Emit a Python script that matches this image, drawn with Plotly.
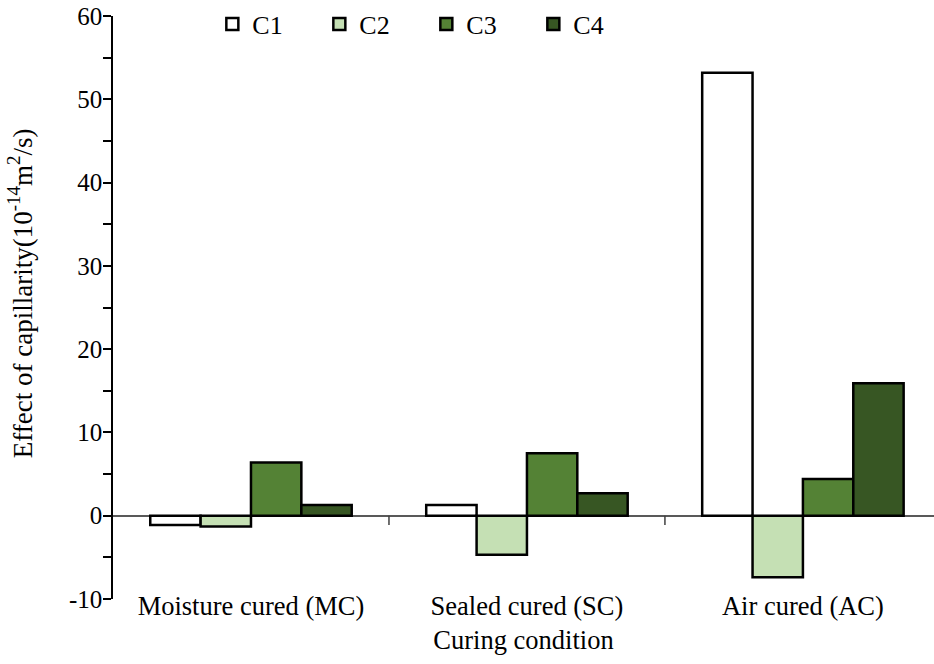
import plotly.graph_objects as go

categories = ["Moisture cured (MC)", "Sealed cured (SC)", "Air cured (AC)"]
series_names = ["C1", "C2", "C3", "C4"]
c1 = [-1.1, 1.3, 53.2]
c2 = [-1.3, -4.7, -7.4]
c3 = [6.4, 7.5, 4.4]
c4 = [1.3, 2.7, 15.9]
series_values = [c1, c2, c3, c4]
colors = ["#ffffff", "#c5e0b4", "#548235", "#375623"]

y_ticks = [-10, 0, 10, 20, 30, 40, 50, 60]
y_tick_labels = ["-10", "0", "10", "20", "30", "40", "50", "60"]
y_title = "Effect of capillarity(10<sup>-14</sup>m<sup>2</sup>/s)"

FONT = "Liberation Serif"

fig = go.Figure()
for name, vals, col in zip(series_names, series_values, colors):
    fig.add_trace(go.Bar(
        x=categories, y=vals, name=name,
        marker=dict(color=col, line=dict(color="#000000", width=2.5)),
    ))

# category boundary tick marks on the zero line
for b in [0.5, 1.5]:
    fig.add_shape(type="line", xref="x", yref="y", x0=b, x1=b, y0=0, y1=-1.1,
                  line=dict(color="#404040", width=1.5))

fig.add_annotation(text=y_title, xref="paper", yref="paper",
                   x=-0.113, y=0.525, xanchor="center", yanchor="middle",
                   textangle=-90, showarrow=False,
                   font=dict(family=FONT, size=27, color="#000000"))

fig.update_layout(
    width=934, height=664,
    margin=dict(l=113, r=0, t=16, b=65, autoexpand=False),
    paper_bgcolor="white", plot_bgcolor="white",
    barmode="group", bargap=0.27, bargroupgap=0,
    font=dict(family=FONT, size=25, color="#000000"),
    showlegend=True,
    legend=dict(orientation="h", x=0.121, xanchor="left", y=0.986, yanchor="middle",
                font=dict(family=FONT, size=26, color="#000000"),
                entrywidth=62, entrywidthmode="pixels",
                bgcolor="rgba(0,0,0,0)", traceorder="normal"),
    xaxis=dict(
        range=[-0.5, 2.475], showline=False, showgrid=False, zeroline=False,
        ticks="", tickfont=dict(family=FONT, size=26.5, color="#000000"),
        ticklabelstandoff=-12,
        title=dict(text="Curing condition", font=dict(family=FONT, size=26.5, color="#000000"),
                   standoff=10),
    ),
    yaxis=dict(
        range=[-10, 60], tickvals=y_ticks, ticktext=y_tick_labels, showgrid=False,
        showline=True, linecolor="#000000", linewidth=1.5,
        ticks="outside", ticklen=8, tickwidth=1.5, tickcolor="#000000",
        minor=dict(dtick=5, ticks="outside", ticklen=8, tickwidth=1.5, tickcolor="#000000"),
        zeroline=True, zerolinecolor="#595959", zerolinewidth=1.5,
        tickfont=dict(family=FONT, size=25, color="#000000"),
        ticklabelstandoff=-4,
    ),
)

fig.write_html("out.html")
